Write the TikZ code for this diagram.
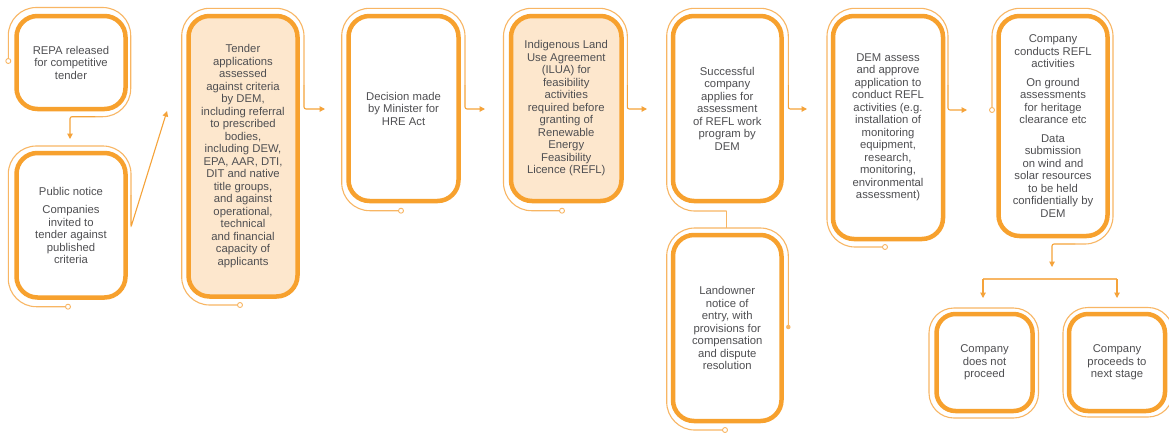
\documentclass[tikz,border=0pt]{standalone}
\usepackage{fontspec}
\setmainfont{Liberation Sans}
\usetikzlibrary{arrows.meta}
\definecolor{orThick}{HTML}{F7A12E}
\definecolor{orThin}{HTML}{F8B664}
\definecolor{orArrow}{HTML}{F5A33A}
\definecolor{peach}{HTML}{FDE7CD}
\definecolor{txt}{HTML}{4F4F52}
\tikzset{
  box/.style={draw=orThick, fill=white, line width=4.5pt, rounded corners=21pt, align=center, text=txt,
    font=\fontsize{11.3}{12.5}\selectfont, inner sep=2pt},
  pbox/.style={box, fill=peach},
  outerline/.style={draw=orThin, line width=1.1pt, rounded corners=28pt},
  legline/.style={draw=orThin, line width=1.1pt, rounded corners=2pt},
  conn/.style={draw=orArrow, line width=1.1pt, rounded corners=2pt, -{Triangle[length=5.5pt,width=5.5pt]}},
  term/.style={circle, draw=orThin, fill=white, line width=0.9pt, inner sep=0pt, minimum size=5pt},
  dotterm/.style={circle, fill=orThin, inner sep=0pt, minimum size=4.5pt}
}
\begin{document}
\begin{tikzpicture}[x=1pt,y=-1pt]
\useasboundingbox (0,0) rectangle (1169,432);
\fill[white] (0,0) rectangle (1169,432);

% main boxes
\node[box, minimum width=109pt, minimum height=93pt] (b1) at (71,62.5)
  {REPA released\\for competitive\\tender};
\node[box, minimum width=109pt, minimum height=144.5pt] (b2) at (71,225.25)
  {Public notice\\[6pt]Companies\\invited to\\tender against\\published\\criteria};
\node[pbox, minimum width=109pt, minimum height=280.5pt] (b3) at (243,156.25)
  {Tender\\applications\\assessed\\against criteria\\by DEM,\\including referral\\to prescribed\\bodies,\\including DEW,\\EPA, AAR, DTI,\\DIT and native\\title groups,\\and against\\operational,\\technical\\and financial\\capacity of\\applicants};
\node[box, minimum width=110pt, minimum height=185pt] (b4) at (403.5,108.5)
  {Decision made\\by Minister for\\HRE Act};
\node[pbox, minimum width=110.5pt, minimum height=185pt] (b5) at (566.25,108.5)
  {Indigenous Land\\Use Agreement\\(ILUA) for\\feasibility\\activities\\required before\\granting of\\Renewable\\Energy\\Feasibility\\Licence (REFL)};
\node[box, minimum width=108.5pt, minimum height=185pt] (b6) at (727.25,108.5)
  {Successful\\company\\applies for\\assessment\\of REFL work\\program by\\DEM};
\node[box, minimum width=108.5pt, minimum height=186pt] (b7) at (727.25,328)
  {Landowner\\notice of\\entry, with\\provisions for\\compensation\\and dispute\\resolution};
\node[box, minimum width=110pt, minimum height=223pt] (b8) at (888,127.5)
  {DEM assess\\and approve\\application to\\conduct REFL\\activities (e.g.\\installation of\\monitoring\\equipment,\\research,\\monitoring,\\environmental\\assessment)};
\node[box, minimum width=109pt, minimum height=220pt] (b9) at (1053,126)
  {Company\\conducts REFL\\activities\\[6pt]On ground\\assessments\\for heritage\\clearance etc\\[6pt]Data\\submission\\on wind and\\solar resources\\to be held\\confidentially by\\DEM};
\node[box, rounded corners=19pt, minimum width=96pt, minimum height=97pt] (b10) at (984.5,362.5)
  {Company\\does not\\proceed};
\node[box, rounded corners=19pt, minimum width=96pt, minimum height=97pt] (b11) at (1117,362.5)
  {Company\\proceeds to\\next stage};

% box 1 outline and arrow to box 2
\coordinate (s1) at (8.3,61);
\draw[outerline] (s1) -- (8.3,7.5) -- (130.7,7.5) -- (130.7,116.7) -- (95,116.7);
\draw[conn] (95,116.7) -- (70,116.7) -- (70,139);
\node[term] at (s1) {};

% box 2 outline and arrow to box 3
\coordinate (s2) at (68,306.7);
\draw[outerline] (s2) -- (8.3,306.7) -- (8.3,146) -- (131,146) -- (131,195);
\draw[conn] (131,195) -- (131,227) -- (167,111);
\node[term] at (s2) {};

% box 3
\coordinate (s3) at (240,305);
\draw[outerline] (s3) -- (181.7,305) -- (181.7,8.3) -- (304,8.3) -- (304,85);
\draw[conn] (304,85) -- (304,109) -- (325,109);
\node[term] at (s3) {};

% box 4
\coordinate (s4) at (401,210.7);
\draw[outerline] (s4) -- (341.7,210.7) -- (341.7,8.3) -- (465,8.3) -- (465,85);
\draw[conn] (465,85) -- (465,109) -- (485,109);
\node[term] at (s4) {};

% box 5
\coordinate (s5) at (562,210.7);
\draw[outerline] (s5) -- (503.5,210.7) -- (503.5,8.3) -- (627.3,8.3) -- (627.3,85);
\draw[conn] (627.3,85) -- (627.3,109) -- (647,109);
\node[term] at (s5) {};

% box 6 and box 7
\coordinate (j6) at (726.5,211);
\draw[outerline] (j6) -- (666.7,211) -- (666.7,8.3) -- (788.3,8.3) -- (788.3,85);
\draw[conn] (788.3,85) -- (788.3,109) -- (807,109);
\coordinate (j7) at (726.5,228);
\draw[legline] (j6) -- (j7);
\coordinate (s7) at (725,430);
\coordinate (e7) at (788.3,327);
\draw[outerline] (s7) -- (666.7,430) -- (666.7,228) -- (788.3,228) -- (e7);
\node[term] at (s7) {};
\node[dotterm] at (e7) {};

% box 8
\coordinate (s8) at (885,247);
\draw[outerline] (s8) -- (827,247) -- (827,8.3) -- (948,8.3) -- (948,85);
\draw[conn] (948,85) -- (948,110) -- (967,110);
\node[term] at (s8) {};

% box 9
\coordinate (s9) at (992,110);
\draw[outerline] (s9) -- (992,8.3) -- (1113,8.3) -- (1113,244) -- (1075,244);
\draw[conn] (1075,244) -- (1052,244) -- (1052,267);
\node[term] at (s9) {};

% split to outcomes
\coordinate (sl) at (983,279);
\coordinate (sr) at (1117,279);
\draw[legline] (sl) -- (sr);
\draw[conn] (sl) -- (983,298);
\draw[conn] (sr) -- (1117,298);

% outcome outlines
\draw[outerline, rounded corners=25pt] (929,308) rectangle (1038.5,418);
\draw[outerline, rounded corners=25pt] (1063,307.5) rectangle (1173,417);
\end{tikzpicture}
\end{document}
